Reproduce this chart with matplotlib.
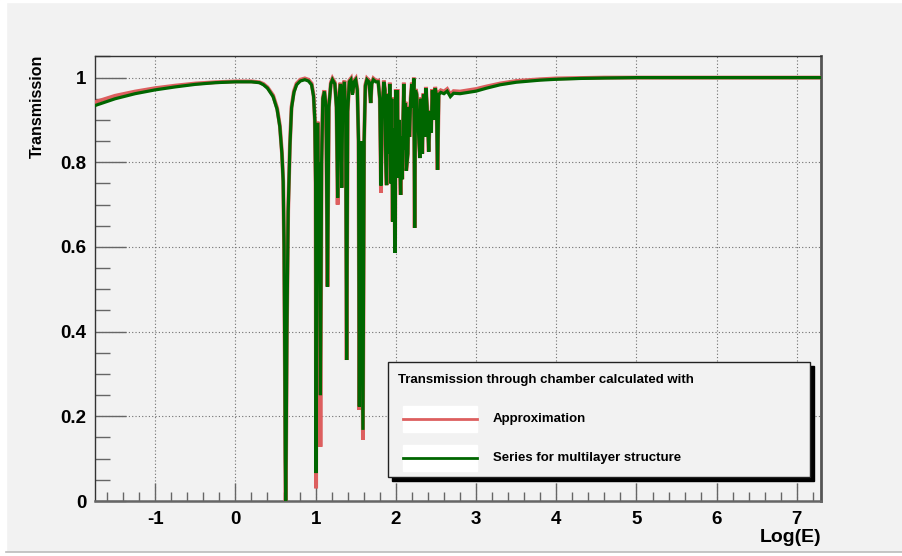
import matplotlib
matplotlib.use("Agg")
import matplotlib.pyplot as plt
from matplotlib.patches import Rectangle
from matplotlib.lines import Line2D
from matplotlib.ticker import MultipleLocator, FuncFormatter

# ---------------- data ----------------
log_e = [-1.75, -1.5, -1.25, -1.0, -0.75, -0.5, -0.25, 0.0, 0.2, 0.3, 0.35, 0.40,
         0.47, 0.52, 0.554, 0.58, 0.596, 0.607, 0.617, 0.622, 0.627, 0.632, 0.642,
         0.658, 0.68, 0.70, 0.73, 0.763, 0.81, 0.866, 0.91, 0.95, 0.975, 0.99,
         1.000, 1.006, 1.012, 1.025, 1.035, 1.045, 1.060, 1.075, 1.09, 1.11, 1.13,
         1.148, 1.165, 1.19, 1.21, 1.24, 1.26, 1.275, 1.29, 1.31, 1.325, 1.34, 1.36,
         1.375, 1.387, 1.40, 1.42, 1.44, 1.46, 1.48, 1.50, 1.52, 1.535, 1.545,
         1.555, 1.565, 1.59, 1.605, 1.62, 1.64, 1.665, 1.687, 1.70, 1.72, 1.75,
         1.78, 1.80, 1.815, 1.83, 1.85, 1.865, 1.875, 1.885, 1.895, 1.905, 1.915,
         1.925, 1.94, 1.95, 1.96, 1.97, 1.98, 1.99, 2.00, 2.01, 2.02, 2.03, 2.04,
         2.05, 2.06, 2.07, 2.08, 2.09, 2.10, 2.11, 2.12, 2.13, 2.15, 2.16, 2.17,
         2.185, 2.20, 2.215, 2.225, 2.235, 2.245, 2.26, 2.28, 2.30, 2.315, 2.33,
         2.345, 2.36, 2.375, 2.39, 2.41, 2.425, 2.44, 2.455, 2.47, 2.49, 2.505,
         2.52, 2.535, 2.56, 2.60, 2.64, 2.68, 2.72, 2.80, 2.90, 3.00, 3.13, 3.30,
         3.50, 3.80, 4.0, 4.3, 4.6, 5.0, 6.0, 7.3]

series_multilayer = [0.934, 0.950, 0.962, 0.971, 0.978, 0.984, 0.988, 0.990, 0.990, 0.988,
                     0.983, 0.975, 0.955, 0.925, 0.884, 0.82, 0.754, 0.60, 0.305, 0.10,
                     0.0, 0.10, 0.40, 0.683, 0.84, 0.928, 0.965, 0.983, 0.992, 0.995,
                     0.992, 0.983, 0.955, 0.90, 0.75, 0.066, 0.50, 0.893, 0.75, 0.80,
                     0.25, 0.80, 0.95, 0.967, 0.93, 0.506, 0.93, 0.985, 0.995, 0.985,
                     0.93, 0.716, 0.95, 0.985, 0.74, 0.97, 0.99, 0.90, 0.333, 0.92,
                     0.99, 0.995, 0.96, 0.99, 0.995, 0.97, 0.85, 0.223, 0.70, 0.85,
                     0.168, 0.85, 0.98, 0.995, 0.99, 0.94, 0.985, 0.995, 0.99, 0.99,
                     0.95, 0.745, 0.92, 0.99, 0.97, 0.80, 0.746, 0.90, 0.96, 0.82,
                     0.985, 0.75, 0.95, 0.66, 0.88, 0.80, 0.586, 0.97, 0.83, 0.97,
                     0.763, 0.90, 0.80, 0.723, 0.86, 0.76, 0.90, 0.985, 0.83, 0.94,
                     0.78, 0.82, 0.93, 0.86, 0.95, 0.985, 0.93, 0.998, 0.645, 0.97,
                     0.96, 0.88, 0.81, 0.95, 0.82, 0.96, 0.86, 0.975, 0.93, 0.825,
                     0.92, 0.87, 0.97, 0.90, 0.975, 0.96, 0.782, 0.96, 0.965, 0.962,
                     0.968, 0.955, 0.963, 0.962, 0.965, 0.968, 0.975, 0.983, 0.989,
                     0.994, 0.996, 0.998, 0.999, 1.0, 1.0, 1.0]

approximation = [0.942, 0.957, 0.967, 0.975, 0.981, 0.986, 0.989, 0.991, 0.991, 0.989,
                 0.985, 0.977, 0.958, 0.928, 0.887, 0.823, 0.757, 0.60, 0.305, 0.10,
                 0.0, 0.10, 0.40, 0.686, 0.843, 0.931, 0.968, 0.986, 0.995, 0.998,
                 0.995, 0.986, 0.958, 0.90, 0.75, 0.03, 0.50, 0.896, 0.75, 0.80,
                 0.128, 0.80, 0.953, 0.970, 0.93, 0.506, 0.93, 0.988, 0.998, 0.988,
                 0.93, 0.70, 0.953, 0.988, 0.74, 0.973, 0.993, 0.90, 0.333, 0.92,
                 0.993, 0.998, 0.963, 0.993, 0.998, 0.973, 0.85, 0.215, 0.70, 0.85,
                 0.145, 0.85, 0.983, 0.998, 0.993, 0.94, 0.988, 0.998, 0.993, 0.993,
                 0.95, 0.728, 0.92, 0.993, 0.973, 0.80, 0.746, 0.90, 0.963, 0.82,
                 0.988, 0.75, 0.953, 0.66, 0.88, 0.80, 0.586, 0.973, 0.83, 0.973,
                 0.763, 0.90, 0.80, 0.723, 0.86, 0.76, 0.90, 0.988, 0.83, 0.943,
                 0.78, 0.82, 0.933, 0.86, 0.953, 0.988, 0.933, 1.0, 0.645, 0.973,
                 0.963, 0.88, 0.81, 0.953, 0.82, 0.963, 0.86, 0.978, 0.933, 0.825,
                 0.923, 0.87, 0.973, 0.90, 0.978, 0.963, 0.782, 0.965, 0.970, 0.967,
                 0.973, 0.960, 0.968, 0.967, 0.970, 0.973, 0.979, 0.986, 0.992,
                 0.996, 0.998, 0.999, 1.0, 1.0, 1.0, 1.0]

x_ticks = [-1, 0, 1, 2, 3, 4, 5, 6, 7]
y_ticks = [0, 0.2, 0.4, 0.6, 0.8, 1.0]
legend_title = "Transmission through chamber calculated with"
label_approx = "Approximation"
label_series = "Series for multilayer structure"

# ---------------- style ----------------
plt.rcParams["font.family"] = ["Liberation Sans", "DejaVu Sans"]
plt.rcParams["font.weight"] = "bold"
plt.rcParams["axes.unicode_minus"] = False

BG = "#f2f2f2"
RED = "#dd5f5f"
GREEN = "#006600"

W, H = 903, 556
fig = plt.figure(figsize=(W / 100, H / 100), dpi=100, facecolor=BG)

# canvas border (white strips / bottom line)
fig.patches.append(Rectangle((0, 0), 6 / W, 1, transform=fig.transFigure, color="white", zorder=-10))
fig.patches.append(Rectangle((0, 0), 1, 4 / H, transform=fig.transFigure, color="white", zorder=-10))
fig.patches.append(Rectangle((0, 1 - 2 / H), 1, 2 / H, transform=fig.transFigure, color="white", zorder=-10))
fig.add_artist(Line2D([6 / W, 1], [4.5 / H, 4.5 / H], transform=fig.transFigure, color="#bbbbbb", lw=1.2))

x0, x1 = 95, 821
y_top, y_bot = 56, 501
ax = fig.add_axes([x0 / W, (H - y_bot) / H, (x1 - x0) / W, (y_bot - y_top) / H])
ax.set_facecolor(BG)

ax.plot(log_e, approximation, color=RED, lw=2.8, solid_joinstyle="miter", zorder=3)
ax.plot(log_e, series_multilayer, color=GREEN, lw=2.3, solid_joinstyle="miter", zorder=4)

ax.set_xlim(-1.75, 7.3)
ax.set_ylim(0, 1.051)

ax.set_xticks(x_ticks)
ax.set_yticks(y_ticks)
ax.xaxis.set_minor_locator(MultipleLocator(0.2))
ax.yaxis.set_minor_locator(MultipleLocator(0.05))
ax.yaxis.set_major_formatter(FuncFormatter(lambda v, p: "%g" % round(v, 2)))
ax.xaxis.set_major_formatter(FuncFormatter(lambda v, p: "%d" % round(v)))

ax.tick_params(axis="y", which="major", direction="in", length=22, width=1.0,
               color="#666666", labelsize=13.5, pad=6, right=False)
ax.tick_params(axis="y", which="minor", direction="in", length=11, width=1.0,
               color="#666666", right=False)
ax.tick_params(axis="x", which="major", direction="in", length=13, width=1.0,
               color="#666666", labelsize=13.5, pad=7, top=False)
ax.tick_params(axis="x", which="minor", direction="in", length=6.5, width=1.0,
               color="#666666", top=False)
for lab in ax.get_xticklabels() + ax.get_yticklabels():
    lab.set_fontweight("bold")

ax.grid(True, which="major", color="#707070", linestyle=(0, (1, 2)), lw=0.8)
ax.set_axisbelow(True)

for s in ax.spines.values():
    s.set_color("#333333")
    s.set_linewidth(1.0)
ax.spines["bottom"].set_color("#666666")
ax.spines["bottom"].set_linewidth(1.8)
ax.spines["right"].set_linewidth(2.0)
ax.spines["right"].set_color("#555555")

# axis titles (ROOT style: aligned to the axis ends)
fig.text(821 / W, 1 - 537 / H, "Log(E)", ha="right", va="center", fontsize=14, fontweight="bold")
fig.text(37 / W, 1 - 55 / H, "Transmission", ha="center", va="top", rotation=90,
         fontsize=11.5, fontweight="bold")


def fx(px):
    return px / W


def fy(py):
    return 1 - py / H


# legend box (ROOT TLegend style with shadow)
lx0, lx1, ly0, ly1 = 388, 810, 362, 477
fig.patches.append(Rectangle((fx(lx0 + 4), fy(ly1 + 4)), fx(lx1 - lx0), (ly1 - ly0) / H,
                             transform=fig.transFigure, color="black", zorder=5))
fig.patches.append(Rectangle((fx(lx0), fy(ly1)), fx(lx1 - lx0), (ly1 - ly0) / H,
                             transform=fig.transFigure, facecolor=BG, edgecolor="#222222",
                             lw=1.0, zorder=6))
fig.text(fx(398), fy(380), legend_title, ha="left", va="center", fontsize=9.5,
         fontweight="bold", zorder=7)
for yc, col, lab in [(419, RED, label_approx), (458, GREEN, label_series)]:
    fig.patches.append(Rectangle((fx(403), fy(yc + 13)), fx(74), 26 / H,
                                 transform=fig.transFigure, color="white", zorder=7))
    fig.add_artist(Line2D([fx(403), fx(477)], [fy(yc), fy(yc)], transform=fig.transFigure,
                          color=col, lw=2.0, zorder=8))
    fig.text(fx(493), fy(yc), lab, ha="left", va="center", fontsize=9.5,
             fontweight="bold", zorder=8)

fig.savefig("out.png", dpi=100, facecolor=BG)
